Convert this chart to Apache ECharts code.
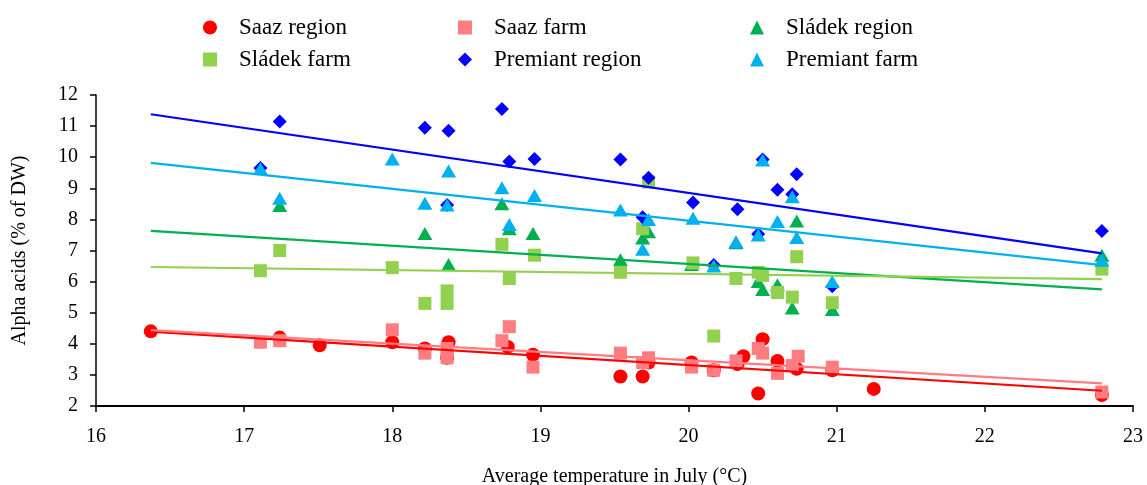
<!DOCTYPE html>
<html><head><meta charset="utf-8">
<script src="https://cdn.jsdelivr.net/npm/echarts@6/dist/echarts.min.js"></script>
<style>html,body{margin:0;padding:0;background:#fff}#c{width:1147px;height:485px}</style>
</head><body><div id="c"></div>
<script>
const seriesNames = ['Saaz region','Saaz farm','Sládek region','Sládek farm','Premiant region','Premiant farm'];
const seriesColors = ['#FF0000','#FF7C80','#00B050','#92D050','#0000FF','#00B0F0'];
const seriesSymbols = ['circle','rect','triangle','rect','diamond','triangle'];
const xTicks = [16,17,18,19,20,21,22,23];
const yTicks = [2,3,4,5,6,7,8,9,10,11,12];

const saazRegion = [[16.37,4.4],[17.24,4.2],[17.51,3.95],[18.0,4.05],[18.22,3.85],[18.38,4.05],[18.37,3.55],[18.78,3.9],[18.95,3.65],[19.54,2.95],[19.69,2.95],[19.73,3.4],[20.02,3.4],[20.17,3.15],[20.33,3.35],[20.37,3.6],[20.47,2.4],[20.5,4.15],[20.6,3.45],[20.73,3.2],[20.97,3.15],[21.25,2.55],[22.79,2.35]];
const saazFarm = [[17.11,4.05],[17.24,4.1],[18.0,4.45],[18.22,3.7],[18.37,3.85],[18.37,3.55],[18.74,4.1],[18.79,4.55],[18.95,3.25],[19.54,3.7],[19.69,3.4],[19.73,3.55],[20.02,3.25],[20.17,3.15],[20.32,3.45],[20.47,3.85],[20.5,3.7],[20.6,3.05],[20.7,3.3],[20.74,3.6],[20.97,3.25],[22.79,2.45]];
const sladekRegion = [[17.24,8.45],[18.22,7.55],[18.38,6.55],[18.74,8.5],[18.79,7.7],[18.95,7.55],[19.54,6.7],[19.69,7.4],[19.73,7.6],[20.02,6.55],[20.32,7.25],[20.47,6.0],[20.5,5.75],[20.6,5.9],[20.7,5.15],[20.73,7.95],[20.97,5.1],[22.79,6.85]];
const sladekFarm = [[17.11,6.35],[17.24,7.0],[18.0,6.45],[18.22,5.3],[18.37,5.7],[18.37,5.3],[18.74,7.2],[18.79,6.1],[18.96,6.85],[19.54,6.3],[19.69,7.7],[19.73,9.2],[20.03,6.6],[20.17,4.25],[20.32,6.1],[20.47,6.3],[20.5,6.2],[20.6,5.65],[20.7,5.5],[20.73,6.8],[20.97,5.32],[22.79,6.4]];
const premiantRegion = [[17.11,9.65],[17.24,11.15],[18.22,10.95],[18.38,10.85],[18.37,8.46],[18.74,11.55],[18.79,9.86],[18.96,9.94],[19.54,9.93],[19.69,8.07],[19.73,9.34],[20.03,8.54],[20.17,6.53],[20.33,8.33],[20.47,7.53],[20.5,9.93],[20.6,8.95],[20.7,8.81],[20.73,9.45],[20.97,5.85],[22.79,7.63]];
const premiantFarm = [[17.11,9.64],[17.24,8.68],[18.0,9.94],[18.22,8.52],[18.38,9.56],[18.37,8.46],[18.74,9.02],[18.79,7.84],[18.96,8.77],[19.54,8.3],[19.69,7.04],[19.73,8.0],[20.03,8.04],[20.17,6.5],[20.32,7.28],[20.47,7.5],[20.5,9.91],[20.6,7.93],[20.7,8.73],[20.73,7.42],[20.97,6.0],[22.79,6.69]];

const saazRegionTrend = [[16.37,4.39],[22.79,2.49]];
const saazFarmTrend = [[16.37,4.44],[22.79,2.73]];
const sladekRegionTrend = [[16.37,7.63],[22.79,5.75]];
const sladekFarmTrend = [[16.37,6.47],[22.79,6.08]];
const premiantRegionTrend = [[16.37,11.38],[22.79,6.91]];
const premiantFarmTrend = [[16.37,9.82],[22.79,6.53]];

const points = [saazRegion,saazFarm,sladekRegion,sladekFarm,premiantRegion,premiantFarm];
const trends = [saazRegionTrend,saazFarmTrend,sladekRegionTrend,sladekFarmTrend,premiantRegionTrend,premiantFarmTrend];
const symbolSizes = [14,13,[15,13],13,14,[15,13]];

const FONT = '"Liberation Serif", "Times New Roman", serif';
const legendPos = [[203,16],[458,16],[750,16],[203,48],[458,48],[750,48]];

const series = [];
points.forEach((d,i)=>{
  series.push({name:seriesNames[i],type:'scatter',data:d,symbol:seriesSymbols[i],symbolSize:symbolSizes[i],
    itemStyle:{color:seriesColors[i],opacity:1},z:2+i,emphasis:{disabled:true}});
});
trends.forEach((d,i)=>{
  series.push({name:seriesNames[i]+' trend',type:'line',data:d,showSymbol:false,symbol:'none',
    lineStyle:{color:seriesColors[i],width:2.2},z:10,silent:true});
});

const legends = seriesNames.map((n,i)=>({
  data:[{name:n,icon:seriesSymbols[i]}],left:legendPos[i][0],top:legendPos[i][1],
  itemWidth:14,itemHeight:14,selectedMode:false,padding:0,
  textStyle:{fontFamily:FONT,fontSize:23,color:'#000',padding:[0,0,0,17]}
}));

const chart = echarts.init(document.getElementById('c'),null,{renderer:'canvas'});
chart.setOption({
  animation:false,
  backgroundColor:'#fff',
  legend:legends,
  grid:{left:96,right:14,top:95,bottom:79,containLabel:false,outerBoundsMode:'none'},
  xAxis:{type:'value',min:xTicks[0],max:xTicks[xTicks.length-1],interval:1,
    name:'Average temperature in July (°C)',nameLocation:'middle',nameGap:61,
    nameTextStyle:{fontFamily:FONT,fontSize:20,color:'#000'},
    axisLine:{lineStyle:{color:'#000',width:2}},
    axisTick:{show:true,length:6,lineStyle:{color:'#000',width:1.5}},
    axisLabel:{fontFamily:FONT,fontSize:20,color:'#000',margin:21},
    splitLine:{show:false}},
  yAxis:{type:'value',min:yTicks[0],max:yTicks[yTicks.length-1],interval:1,
    name:'Alpha acids (% of DW)',nameLocation:'middle',nameGap:66,nameRotate:90,
    nameTextStyle:{fontFamily:FONT,fontSize:20,color:'#000'},
    axisLine:{show:true,lineStyle:{color:'#000',width:1.5}},
    axisTick:{show:true,length:6,lineStyle:{color:'#000',width:1.5}},
    axisLabel:{fontFamily:FONT,fontSize:20,color:'#000',margin:18},
    splitLine:{show:false}},
  series:series
});
</script></body></html>
